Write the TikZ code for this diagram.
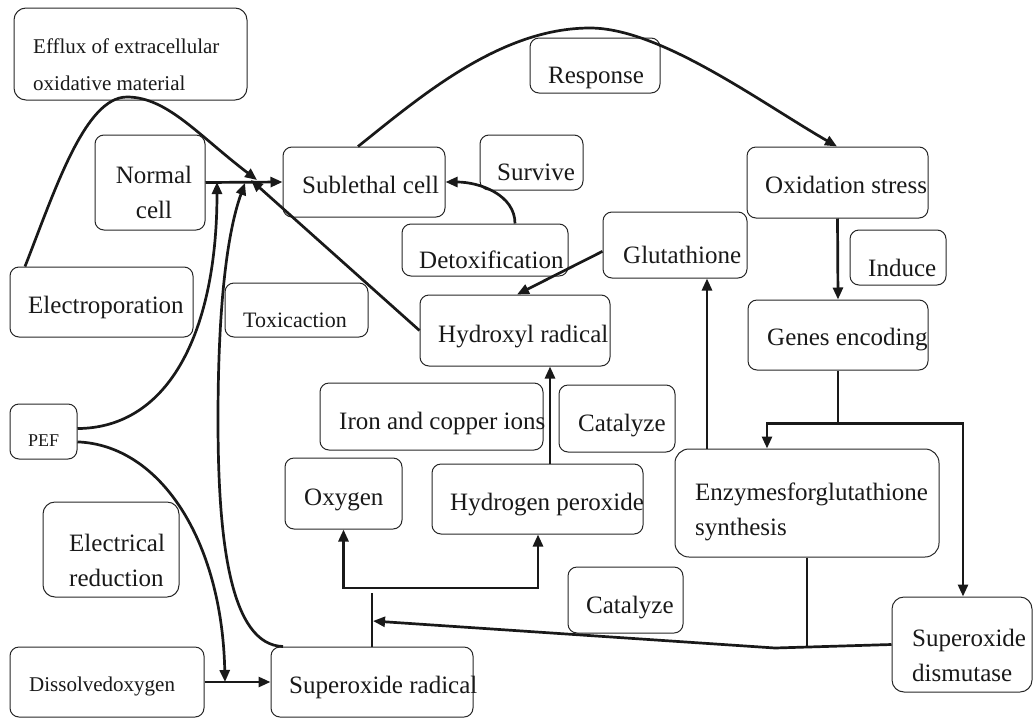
\documentclass[tikz,border=0pt]{standalone}
\usepackage{fontspec}
\setmainfont{Liberation Serif}
\usetikzlibrary{arrows.meta}
\tikzset{
  box/.style={draw=black!85, line width=1pt, rounded corners=9pt, inner sep=0pt},
  txt/.style={inner sep=0pt, anchor=base west, text=black!90, font=\fontsize{25}{35}\selectfont},
  arr/.style={line width=2.7pt, draw=black!90, -{Triangle[length=12pt,width=10pt]}},
  lin/.style={line width=2.7pt, draw=black!90},
}
\begin{document}
\begin{tikzpicture}[x=1pt,y=-1pt]
\useasboundingbox (0,0) rectangle (1033,718);

% Kaesten
\node[box, rounded corners=12pt, minimum width=233pt, minimum height=92pt] (effl) at (130.5,54) {};
\node[box, minimum width=110pt, minimum height=95pt] (norm) at (150,182.5) {};
\node[box, minimum width=162pt, minimum height=70pt] (sub) at (364,182) {};
\node[box, minimum width=103pt, minimum height=55pt] (surv) at (531.5,162.5) {};
\node[box, minimum width=130pt, minimum height=55pt] (resp) at (595,65.5) {};
\node[box, minimum width=181pt, minimum height=71pt] (oxs) at (837.5,182.5) {};
\node[box, minimum width=96pt, minimum height=55pt] (ind) at (898,257.5) {};
\node[box, minimum width=166pt, minimum height=52pt] (detox) at (485,250) {};
\node[box, minimum width=144pt, minimum height=66pt] (glut) at (675,245) {};
\node[box, minimum width=190pt, minimum height=71pt] (hydr) at (515,330.5) {};
\node[box, minimum width=180pt, minimum height=70pt] (gene) at (838,335) {};
\node[box, minimum width=183pt, minimum height=70pt] (elpo) at (101.5,302) {};
\node[box, minimum width=143pt, minimum height=54pt] (tox) at (296.5,310) {};
\node[box, minimum width=223pt, minimum height=67pt] (iron) at (431.5,416.5) {};
\node[box, minimum width=116pt, minimum height=67pt] (cat1) at (617,418.5) {};
\node[box, minimum width=67pt, minimum height=55pt] (pef) at (43.5,431.5) {};
\node[box, minimum width=117pt, minimum height=71pt] (oxy) at (343.5,493.5) {};
\node[box, minimum width=211pt, minimum height=70pt] (hper) at (537.5,499) {};
\node[box, rounded corners=14pt, minimum width=264pt, minimum height=108pt] (enz) at (807,503) {};
\node[box, rounded corners=12pt, minimum width=136pt, minimum height=95pt] (elred) at (111,549.5) {};
\node[box, minimum width=115pt, minimum height=66pt] (cat2) at (625.5,600) {};
\node[box, rounded corners=12pt, minimum width=140pt, minimum height=95pt] (sod) at (962,644.5) {};
\node[box, minimum width=194pt, minimum height=70pt] (diss) at (107,682) {};
\node[box, minimum width=202pt, minimum height=70pt] (supr) at (372,682) {};

% Beschriftungen (base = letzte Zeile)
\node[txt, font=\fontsize{21}{37}\selectfont, align=left] (efflt) at (33,90) {Efflux of extracellular\\oxidative material};
\node[txt, anchor=base, align=center] (normt) at (154,218) {Normal\\cell};
\node[txt] (subt) at (302,193) {Sublethal cell};
\node[txt] (survt) at (497,180) {Survive};
\node[txt] (respt) at (548,83) {Response};
\node[txt] (oxst) at (765,193) {Oxidation stress};
\node[txt] (indt) at (868,276) {Induce};
\node[txt] (detoxt) at (419,268) {Detoxification};
\node[txt] (glutt) at (623,263) {Glutathione};
\node[txt] (hydrt) at (438,342) {Hydroxyl radical};
\node[txt] (genet) at (767,345) {Genes encoding};
\node[txt] (elpot) at (28,313) {Electroporation};
\node[txt, font=\fontsize{22}{30}\selectfont] (toxt) at (243,327) {Toxicaction};
\node[txt] (iront) at (339,429) {Iron and copper ions};
\node[txt] (cat1t) at (578,431) {Catalyze};
\node[txt, font=\fontsize{18}{24}\selectfont] (peft) at (28,446) {PEF};
\node[txt] (oxyt) at (304,505) {Oxygen};
\node[txt] (hpert) at (450,510) {Hydrogen peroxide};
\node[txt, align=left] (enzt) at (695,535) {Enzymesforglutathione\\synthesis};
\node[txt, align=left] (elredt) at (69,586) {Electrical\\reduction};
\node[txt] (cat2t) at (586,613) {Catalyze};
\node[txt, align=left] (sodt) at (912,681) {Superoxide\\dismutase};
\node[txt, font=\fontsize{21}{30}\selectfont] (disst) at (29,691) {Dissolvedoxygen};
\node[txt] (suprt) at (289,693) {Superoxide radical};

% Treffpunkte
\coordinate (jpef) at (217,182);
\coordinate (jsup) at (245,183);
\coordinate (jhyd) at (251,180);
\coordinate (jeff) at (257,180);
\coordinate (jdis) at (225,682);
\coordinate (jcat) at (373,621);
\coordinate (jsod) at (775,648);

% Pfeile zur subletalen Zelle
\draw[arr] (norm.east) -- (sub.west);
\draw[arr] (25,0 |- elpo.north) .. controls (55,190) and (85,97) .. (127,97)
  .. controls (167,97) and (198,135) .. (jeff);
\draw[arr] (pef.5) .. controls (170,428) and (217,330) .. (jpef);
\draw[arr] (283,0 |- supr.north) .. controls (230,645) and (218,540) .. (218,420)
  .. controls (218,300) and (228,230) .. (jsup);
\draw[arr] (hydr.west) -- (jhyd);
\draw[arr] (515,0 |- detox.north) .. controls (515,195) and (480,182) .. (sub.east);

% Antwort
\draw[arr] (358,0 |- sub.north) .. controls (420,97) and (500,28) .. (590,28)
  .. controls (660,28) and (760,102) .. (837,0 |- oxs.north);
\draw[arr] (oxs.south) -- (gene.north);
\draw[lin] (gene.south) -- ++(0,53) coordinate (gbr);
\draw[arr] (gbr) -| (767,0 |- enz.north);
\draw[arr] (gbr) -| (963,0 |- sod.north);
\draw[arr] (707,0 |- enz.north) -- (707,0 |- glut.south);
\draw[arr] (glut.185) -- (517,0 |- hydr.north);

% Superoxid
\draw[arr] (diss.east) -- (supr.west);
\draw[arr] (pef.-17) .. controls (160,445) and (222,540) .. (jdis);
\draw[lin] (372,0 |- supr.north) -- (372,593);
\draw[line width=2.7pt, draw=black!90, {Triangle[length=12pt,width=10pt]}-{Triangle[length=12pt,width=10pt]}]
  (oxy.south) |- (538,588) -- (538,0 |- hper.south);
\draw[arr] (550,0 |- hper.north) -- (550,0 |- hydr.south);
\draw[arr] (sod.west) -- (jsod) -- (jcat);
\draw[lin] (enz.south) -- (807,0 |- jsod);

\end{tikzpicture}
\end{document}
